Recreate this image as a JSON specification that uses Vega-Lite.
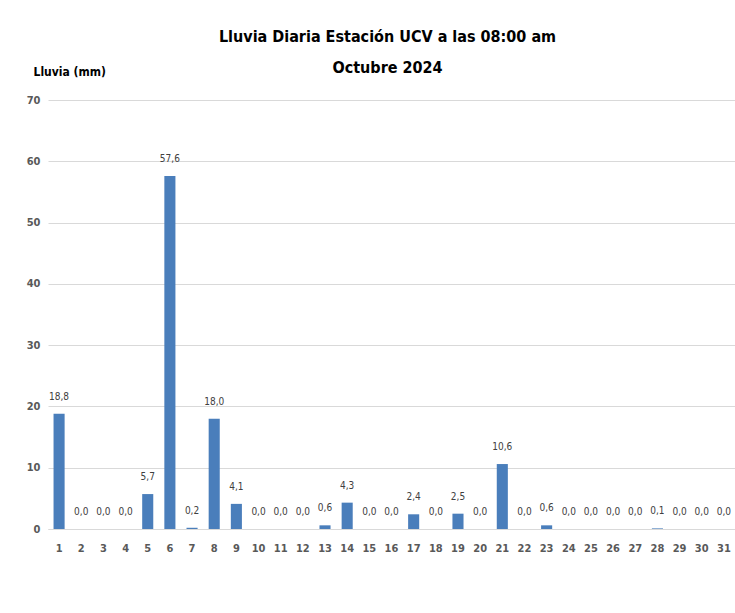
{
  "$schema": "https://vega.github.io/schema/vega-lite/v6.json",
  "autosize": {"type": "none"},
  "padding": {"left": 48, "top": 100, "right": 0, "bottom": 84},
  "width": 687,
  "height": 429,
  "background": "white",
  "config": {
    "locale": {"number": {"decimal": ",", "thousands": ".", "grouping": [3], "currency": ["", ""]}},
    "font": "DejaVu Sans Condensed",
    "view": {"stroke": null}
  },
  "title": {
    "text": ["Lluvia Diaria Estación UCV a las 08:00 am", "Octubre 2024"],
    "anchor": "middle",
    "frame": "group",
    "dx": -4,
    "offset": -11,
    "fontSize": 16,
    "fontWeight": "bold",
    "color": "#000000",
    "lineHeight": 31,
    "font": "DejaVu Sans Condensed"
  },
  "data": {
    "values": [
      {"dia": 1, "lluvia": 18.8}, {"dia": 2, "lluvia": 0}, {"dia": 3, "lluvia": 0}, {"dia": 4, "lluvia": 0},
      {"dia": 5, "lluvia": 5.7}, {"dia": 6, "lluvia": 57.6}, {"dia": 7, "lluvia": 0.2}, {"dia": 8, "lluvia": 18.0},
      {"dia": 9, "lluvia": 4.1}, {"dia": 10, "lluvia": 0}, {"dia": 11, "lluvia": 0}, {"dia": 12, "lluvia": 0},
      {"dia": 13, "lluvia": 0.6}, {"dia": 14, "lluvia": 4.3}, {"dia": 15, "lluvia": 0}, {"dia": 16, "lluvia": 0},
      {"dia": 17, "lluvia": 2.4}, {"dia": 18, "lluvia": 0}, {"dia": 19, "lluvia": 2.5}, {"dia": 20, "lluvia": 0},
      {"dia": 21, "lluvia": 10.6}, {"dia": 22, "lluvia": 0}, {"dia": 23, "lluvia": 0.6}, {"dia": 24, "lluvia": 0},
      {"dia": 25, "lluvia": 0}, {"dia": 26, "lluvia": 0}, {"dia": 27, "lluvia": 0}, {"dia": 28, "lluvia": 0.1},
      {"dia": 29, "lluvia": 0}, {"dia": 30, "lluvia": 0}, {"dia": 31, "lluvia": 0}
    ]
  },
  "encoding": {
    "x": {
      "field": "dia",
      "type": "ordinal",
      "scale": {"paddingInner": 0.5, "paddingOuter": 0.25},
      "axis": {
        "title": null,
        "labelAngle": 0,
        "labelFontSize": 11,
        "labelFontWeight": "bold",
        "labelColor": "#595959",
        "labelPadding": 13,
        "ticks": false,
        "domainColor": "#D9D9D9",
        "domainWidth": 1
      }
    },
    "y": {
      "field": "lluvia",
      "type": "quantitative",
      "scale": {"domain": [0, 70], "nice": false},
      "axis": {
        "values": [0, 10, 20, 30, 40, 50, 60, 70],
        "title": "Lluvia (mm)",
        "titleAngle": 0,
        "titleAlign": "left",
        "titleBaseline": "middle",
        "titleX": -15,
        "titleY": -29,
        "titleFontSize": 12,
        "titleFontWeight": "bold",
        "titleColor": "#000000",
        "labelFontSize": 11,
        "labelFontWeight": "bold",
        "labelColor": "#595959",
        "labelPadding": 8,
        "ticks": false,
        "domain": false,
        "gridColor": "#D9D9D9",
        "gridWidth": 1
      }
    }
  },
  "layer": [
    {"mark": {"type": "bar", "color": "#4A7EBB"}},
    {
      "mark": {"type": "text", "dy": -12, "fontSize": 10, "color": "#404040", "baseline": "bottom"},
      "encoding": {"text": {"field": "lluvia", "type": "quantitative", "format": ".1f"}}
    }
  ]
}
